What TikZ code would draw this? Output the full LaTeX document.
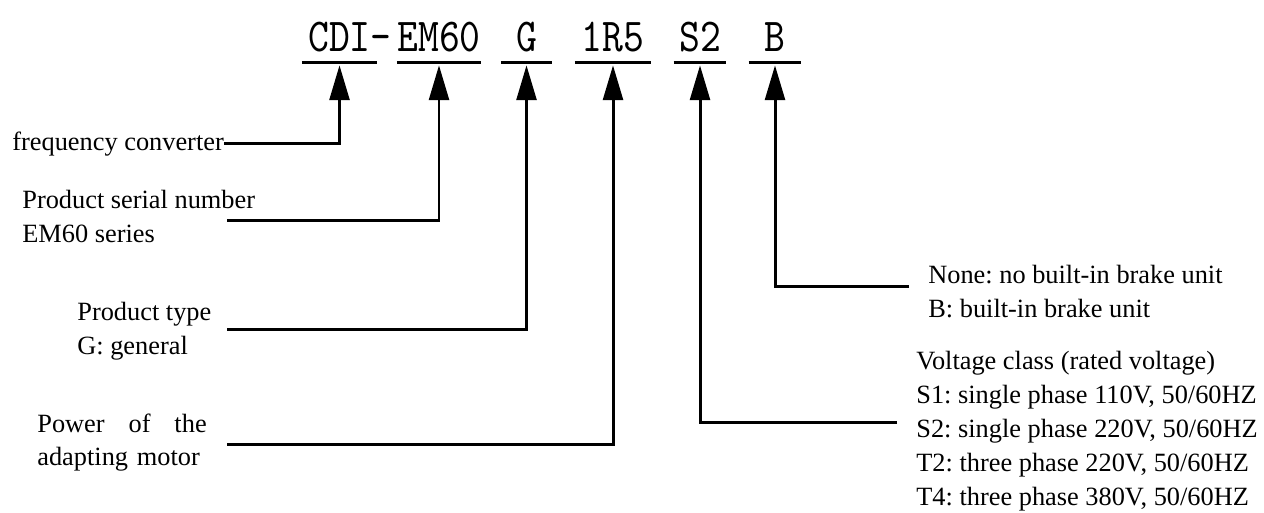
\documentclass[tikz,border=0pt]{standalone}
\usepackage{fontspec}
\setmainfont{Liberation Serif}
\newfontfamily\codefont[FakeStretch=0.84]{lmmono10-regular.otf}
\usetikzlibrary{arrows.meta, positioning, calc}
\frenchspacing

\begin{document}
\begin{tikzpicture}[x=0.02cm, y=-0.02cm,
  code/.style={font=\fontsize{26.9}{28}\codefont, inner xsep=0pt, inner ysep=6.24pt, text depth=0pt, anchor=base},
  lbl/.style={font=\fontsize{15}{19.3}\selectfont, inner sep=0pt, anchor=base west, align=left},
  uline/.style={line width=1.7pt},
  conn/.style={line width=1.7pt, -{Triangle[length=19.8pt, width=11.3pt]}, shorten >=1.7pt}]
  \useasboundingbox (0,0) rectangle (1264,512);

  % Model code
  \node[code, minimum width=42.5pt] (cdi) at (339.5, 51) {CDI\rlap{-}};
  \node[code, minimum width=43.1pt] (em) at (439, 51) {EM60};
  \node[code, minimum width=28.9pt] (g) at (526.5, 51) {G};
  \node[code, minimum width=43.1pt] (pw) at (613, 51) {1R5};
  \node[code, minimum width=29.5pt] (vc) at (700, 51) {S2};
  \node[code, minimum width=29.5pt] (bk) at (775, 51) {B};
  \foreach \n in {cdi, em, g, pw, vc, bk}
    \draw[uline] (\n.south west) -- (\n.south east);

  % Left labels (placed by their last line)
  \node[lbl] (fc) at (12, 150) {frequency converter};
  \node[lbl] (sn) at (22, 242) {Product serial number\\EM60 series};
  \node[lbl] (pt) at (77, 354) {Product type\\G: general};
  % text width puts the base on the first line
  \node[lbl, text width=96.4pt] (pm) at (37, 432) {Power\hfill of\hfill the\\adapting motor};

  % Right labels
  \node[lbl] (br) at (928, 317) {None: no built-in brake unit\\B: built-in brake unit};
  \node[lbl] (vl) at (916, 505) {Voltage class (rated voltage)\\S1: single phase 110V, 50/60HZ\\S2: single phase 220V, 50/60HZ\\T2: three phase 220V, 50/60HZ\\T4: three phase 380V, 50/60HZ};

  % Line starts
  \coordinate (sn-l) at (227, 220);
  \coordinate (pt-l) at (227, 329);
  \coordinate (pm-l) at (227, 444);
  \coordinate (br-l) at (909, 286);
  \coordinate (vl-l) at (897, 422);

  % Leaders
  \draw[conn] (fc.east) -| (cdi.south);
  \draw[conn] (sn-l) -| (em.south);
  \draw[conn] (pt-l) -| (g.south);
  \draw[conn] (pm-l) -| (pw.south);
  \draw[conn] (vl-l) -| (vc.south);
  \draw[conn] (br-l) -| (bk.south);
\end{tikzpicture}
\end{document}
